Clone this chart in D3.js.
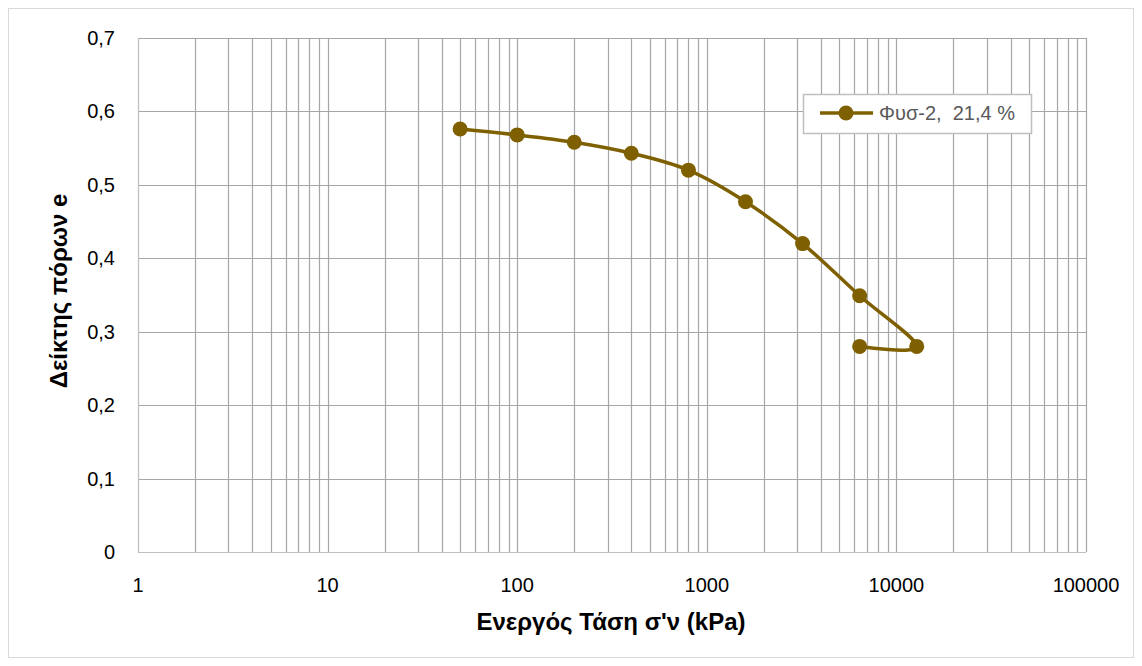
<!DOCTYPE html>
<html>
<head>
<meta charset="utf-8">
<script src="https://cdn.jsdelivr.net/npm/d3@7"></script>
<style>
  html, body { margin: 0; padding: 0; background: #fff; }
  svg text { font-family: "Liberation Sans", "Noto Sans", sans-serif; }
</style>
</head>
<body>
<svg id="chart" width="1142" height="666"></svg>
<script>
// Oedometer test: void ratio vs effective stress
const stress = [50, 100, 200, 400, 800, 1600, 3200, 6400, 12800, 6400];
const voidRatio = [0.576, 0.568, 0.558, 0.543, 0.520, 0.477, 0.420, 0.349, 0.280, 0.280];
const seriesName = "Φυσ-2,  21,4 %";
const xTicks = [1, 10, 100, 1000, 10000, 100000];
const yTicks = [0, 0.1, 0.2, 0.3, 0.4, 0.5, 0.6, 0.7];

const svg = d3.select("#chart");
const W = 1142, H = 666;
const m = { left: 138, right: 1086, top: 38, bottom: 552 };
const color = "#7f6000";

// outer frame
svg.append("rect").attr("x", 8.5).attr("y", 8.5).attr("width", W - 17).attr("height", H - 17)
  .attr("fill", "#fff").attr("stroke", "#d9d9d9").attr("stroke-width", 1);

const x = d3.scaleLog().domain([1, 100000]).range([m.left, m.right]);
const y = d3.scaleLinear().domain([0, 0.7]).range([m.bottom, m.top]);

const grid = svg.append("g");
// vertical grid lines: every minor/major decade step
const vlines = [];
for (let d = 1; d < 100000; d *= 10) for (let k = 1; k <= 10; k++) vlines.push(d * k);
grid.selectAll("line.v").data(Array.from(new Set(vlines))).join("line")
  .attr("x1", d => Math.round(x(d)) + 0.5).attr("x2", d => Math.round(x(d)) + 0.5)
  .attr("y1", m.top).attr("y2", m.bottom)
  .attr("stroke", "#a6a6a6").attr("stroke-width", 1.2);
grid.selectAll("line.h").data(yTicks).join("line")
  .attr("x1", m.left).attr("x2", m.right)
  .attr("y1", d => Math.round(y(d)) + 0.5).attr("y2", d => Math.round(y(d)) + 0.5)
  .attr("stroke", "#a6a6a6").attr("stroke-width", 1.2);
// axis lines
svg.append("line").attr("x1", m.left + 0.5).attr("x2", m.left + 0.5).attr("y1", m.top).attr("y2", m.bottom)
  .attr("stroke", "#bfbfbf");
svg.append("line").attr("x1", m.left).attr("x2", m.right).attr("y1", Math.round(y(0)) + 0.5).attr("y2", Math.round(y(0)) + 0.5)
  .attr("stroke", "#bfbfbf");

const fmt = v => String(+v.toFixed(1)).replace(".", ",");
// y tick labels
svg.append("g").selectAll("text").data(yTicks).join("text")
  .attr("x", 115).attr("y", d => y(d)).attr("dy", "0.35em")
  .attr("text-anchor", "end").attr("font-size", 20).attr("fill", "#000")
  .text(fmt);
// x tick labels
svg.append("g").selectAll("text").data(xTicks).join("text")
  .attr("x", d => x(d)).attr("y", 592)
  .attr("text-anchor", "middle").attr("font-size", 20).attr("fill", "#000")
  .text(d => String(d));

// axis titles
svg.append("text").attr("x", 611).attr("y", 630)
  .attr("text-anchor", "middle").attr("font-size", 24).attr("font-weight", "bold").attr("fill", "#000")
  .text("Ενεργός Τάση σ'ν (kPa)");
svg.append("text").attr("transform", "translate(67,291) rotate(-90)")
  .attr("text-anchor", "middle").attr("font-size", 24).attr("font-weight", "bold").attr("fill", "#000")
  .text("Δείκτης πόρων e");

// data series
const pts = stress.map((s, i) => [x(s), y(voidRatio[i])]);
svg.append("path").attr("d", d3.line().curve(d3.curveCatmullRom.alpha(0))(pts))
  .attr("fill", "none").attr("stroke", color).attr("stroke-width", 3.5);
svg.append("g").selectAll("circle").data(pts).join("circle")
  .attr("cx", d => d[0]).attr("cy", d => d[1]).attr("r", 7.5).attr("fill", color);

// legend
const lg = svg.append("g");
lg.append("rect").attr("x", 803.5).attr("y", 94.5).attr("width", 228).attr("height", 39)
  .attr("fill", "#fff").attr("stroke", "#bfbfbf").attr("stroke-width", 1.5);
lg.append("line").attr("x1", 820).attr("x2", 873).attr("y1", 113).attr("y2", 113)
  .attr("stroke", color).attr("stroke-width", 3.5);
lg.append("circle").attr("cx", 846).attr("cy", 113).attr("r", 7.5).attr("fill", color);
lg.append("text").attr("x", 879).attr("y", 113).attr("dy", "0.35em")
  .attr("font-size", 20).attr("fill", "#595959").attr("xml:space", "preserve").style("white-space", "pre")
  .text(seriesName);
</script>
</body>
</html>
